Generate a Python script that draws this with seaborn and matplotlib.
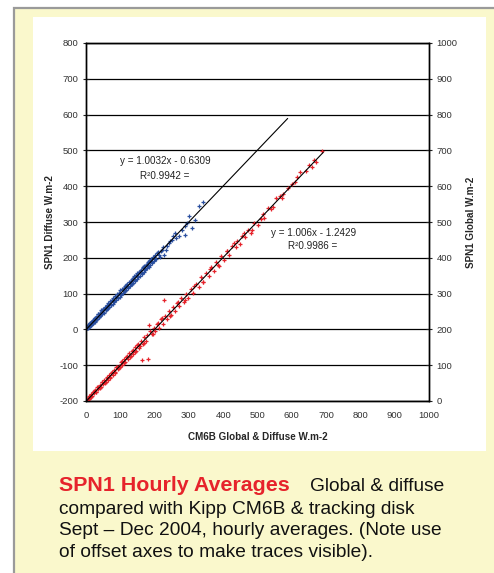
import numpy as np
import matplotlib
matplotlib.use("Agg")
import matplotlib.pyplot as plt
from matplotlib.patches import Rectangle
import seaborn as sns

# diffuse: CM6B (x) vs SPN1 (y), left axis
diffuse_x = [2, 4, 5, 7, 9, 10, 12, 14, 15, 17, 19, 21, 23, 25, 27, 30, 32, 35, 37, 40,
             42, 45, 47, 50, 52, 55, 58, 60, 62, 65, 68, 70, 73, 75, 78, 80, 83, 85, 88, 90,
             93, 95, 98, 100, 103, 105, 108, 110, 113, 115, 118, 120, 123, 125, 128, 130, 133, 135, 138, 140,
             143, 145, 148, 150, 153, 155, 158, 160, 163, 165, 168, 170, 173, 175, 178, 180, 183, 185, 188, 190,
             193, 195, 198, 200, 205, 210, 215, 222, 228, 235, 242, 250, 255, 262, 270, 280, 288, 295, 300, 309,
             318, 330, 341,
             3, 6, 8, 11, 13, 16, 18, 20, 22, 24, 26, 28, 31, 33, 36, 38, 41, 44, 48, 51,
             54, 57, 61, 64, 67, 72, 77, 82, 87, 92, 97, 102, 107, 112, 117, 122, 127, 132, 137, 142,
             147, 152, 157, 162, 167, 172, 177, 182, 187, 192, 197, 202, 208, 212, 218, 225, 232, 245, 260, 290]
diffuse_y = [5, 3, 11, 6, 14, 8, 17, 11, 22, 14, 25, 18, 29, 22, 33, 36, 28, 43, 34, 47,
             38, 53, 43, 58, 47, 63, 53, 67, 57, 74, 63, 79, 67, 83, 72, 89, 77, 93, 82, 98,
             87, 102, 91, 109, 97, 112, 101, 117, 107, 121, 111, 127, 116, 132, 121, 136, 126, 141, 131, 148,
             136, 152, 140, 158, 146, 161, 150, 167, 155, 173, 159, 177, 165, 181, 171, 187, 175, 191, 181, 198,
             185, 202, 190, 209, 197, 217, 201, 221, 208, 234, 240, 249, 262, 256, 262, 278, 290, 296, 317, 283,
             306, 345, 356,
             8, 4, 12, 9, 18, 13, 22, 17, 27, 21, 31, 25, 36, 30, 42, 36, 46, 43, 53, 48,
             59, 55, 66, 61, 71, 68, 82, 79, 91, 87, 103, 99, 113, 108, 123, 118, 133, 128, 143, 139,
             153, 148, 163, 158, 172, 168, 183, 177, 193, 188, 203, 198, 214, 209, 218, 230, 222, 248, 270, 265]

# global: CM6B (x) vs SPN1 (y), right axis
global_x = [1, 3, 5, 8, 10, 13, 15, 18, 20, 24, 27, 30, 33, 36, 40, 43, 46, 50, 53, 57,
            60, 64, 67, 70, 74, 78, 82, 85, 88, 92, 95, 99, 102, 106, 110, 114, 118, 122, 126, 130,
            134, 138, 142, 146, 150, 155, 160, 163, 165, 170, 175, 181, 184, 188, 192, 197, 202, 207, 212, 218,
            224, 227, 230, 236, 242, 248, 254, 260, 266, 272, 278, 285, 292, 298, 305, 312, 320, 328, 335, 342,
            350, 358, 365, 372, 380, 388, 395, 402, 410, 418, 425, 432, 440, 448, 456, 465, 472, 480, 490, 500,
            510, 520, 530, 545, 555, 565, 575, 590, 600, 615, 625, 640, 650, 665, 672, 688,
            2, 6, 11, 16, 22, 29, 35, 41, 48, 55, 62, 69, 76, 84, 90, 97, 104, 112, 120, 128,
            136, 144, 152, 158, 168, 178, 195, 210, 222, 245, 268, 290, 315, 340, 362, 385, 412, 438, 462, 485,
            515, 540, 570, 610, 660]
global_y = [2, 1, 8, 6, 13, 11, 19, 15, 24, 21, 32, 26, 38, 33, 44, 40, 52, 47, 58, 54,
            63, 60, 72, 66, 79, 74, 86, 81, 94, 88, 99, 95, 108, 101, 116, 109, 124, 117, 133, 125,
            140, 132, 150, 141, 157, 148, 168, 115, 160, 178, 168, 117, 212, 196, 186, 205, 196, 216, 205, 228,
            216, 282, 238, 229, 252, 240, 262, 252, 275, 264, 287, 277, 300, 289, 314, 303, 328, 319, 345, 333,
            358, 348, 374, 362, 389, 378, 404, 393, 418, 408, 434, 440, 448, 438, 462, 458, 479, 470, 498, 492,
            508, 512, 538, 541, 566, 572, 578, 596, 605, 625, 640, 642, 660, 672, 668, 698,
            5, 3, 15, 12, 28, 24, 40, 37, 53, 50, 67, 63, 81, 78, 96, 92, 111, 107, 126, 122,
            142, 137, 158, 153, 163, 185, 188, 219, 231, 238, 277, 283, 322, 332, 369, 380, 420, 430, 470, 478,
            522, 535, 566, 613, 655]

# trendline equations (as printed on chart) and their x extent
diffuse_fit = (1.0032, -0.6309, 588)
global_fit = (1.006, -1.2429, 692)

left_ticks = list(range(-200, 801, 100))
right_ticks = list(range(0, 1001, 100))
x_ticks = list(range(0, 1001, 100))

blue = "#2a4f9f"
red = "#e6232b"

sns.set_style("white")
plt.rcParams["font.family"] = ["Liberation Sans", "DejaVu Sans"]
plt.rcParams["axes.unicode_minus"] = False

fig = plt.figure(figsize=(4.94, 5.73), dpi=100, facecolor="white")
W, H = 494, 573


def fx(px):
    return px / W


def fy(py):
    return 1 - py / H


# yellow frame and white panel (behind the axes)
fig.patches.append(Rectangle((fx(14), -0.1), 1.2, fy(8) + 0.1, transform=fig.transFigure,
                             facecolor="#faf8cc", edgecolor="#9a9a9a", linewidth=1.6, zorder=-10))
fig.patches.append(Rectangle((fx(33), fy(451)), fx(486) - fx(33), fy(17) - fy(451),
                             transform=fig.transFigure, facecolor="white", edgecolor="none", zorder=-9))

ax = fig.add_axes([fx(86), fy(401), fx(429) - fx(86), fy(43) - fy(401)])
ax.set_facecolor("white")
ax2 = ax.twinx()

sns.scatterplot(x=diffuse_x, y=diffuse_y, ax=ax, color=blue, marker="+", s=6, linewidth=0.9)
sns.scatterplot(x=global_x, y=global_y, ax=ax2, color=red, marker="+", s=6, linewidth=0.9)

m, b, xe = diffuse_fit
xs = np.array([0, xe])
sns.lineplot(x=xs, y=m * xs + b, ax=ax, color="black", linewidth=0.8)
m, b, xe = global_fit
xs = np.array([0, xe])
sns.lineplot(x=xs, y=m * xs + b, ax=ax2, color="black", linewidth=0.8)

ax.set_xlim(0, 1000)
ax.set_ylim(-200, 800)
ax2.set_ylim(0, 1000)
ax.set_xticks(x_ticks)
ax.set_yticks(left_ticks)
ax2.set_yticks(right_ticks)

ax.yaxis.grid(True, color="black", linewidth=0.9)
ax.set_axisbelow(True)

for a in (ax, ax2):
    for s in a.spines.values():
        s.set_color("black")
        s.set_linewidth(1.0)
ax.tick_params(axis="y", direction="inout", length=5, width=0.8, labelsize=6.8, pad=3, colors="#222222")
ax.tick_params(axis="x", direction="out", length=3.5, width=0.8, labelsize=6.8, pad=4, colors="#222222")
ax2.tick_params(axis="y", direction="inout", length=5, width=0.8, labelsize=6.8, pad=3, colors="#222222")
for a in (ax, ax2):
    for t in a.get_xticklabels() + a.get_yticklabels():
        t.set_color("#333333")

ax.set_xlabel("CM6B Global & Diffuse W.m-2", fontsize=7.1, fontweight="bold", labelpad=8)
ax.set_ylabel("SPN1 Diffuse W.m-2", fontsize=7.1, fontweight="bold", labelpad=3)
ax2.set_ylabel("SPN1 Global W.m-2", fontsize=7.1, fontweight="bold", labelpad=6)

ax.text(230, 470, "y = 1.0032x - 0.6309", fontsize=7.1, ha="center", va="center", color="#222222")
ax.text(228, 429, "R²0.9942 =", fontsize=7.1, ha="center", va="center", color="#222222")
ax.text(662, 269, "y = 1.006x - 1.2429", fontsize=7.1, ha="center", va="center", color="#222222")
ax.text(660, 233, "R²0.9986 =", fontsize=7.1, ha="center", va="center", color="#222222")

# caption
fig.text(fx(59), fy(491), "SPN1 Hourly Averages", fontsize=15.4, fontweight="bold",
         color=red, ha="left", va="baseline")
fig.text(fx(310), fy(491), "Global & diffuse", fontsize=13.8, color="#111111",
         ha="left", va="baseline")
caption = ["compared with Kipp CM6B & tracking disk",
           "Sept \u2013 Dec 2004, hourly averages. (Note use",
           "of offset axes to make traces visible)."]
for i, line in enumerate(caption):
    fig.text(fx(59), fy(513.5 + 21.8 * i), line, fontsize=13.8, color="#111111",
             ha="left", va="baseline")

fig.savefig("out.png", dpi=100, facecolor=fig.get_facecolor())
